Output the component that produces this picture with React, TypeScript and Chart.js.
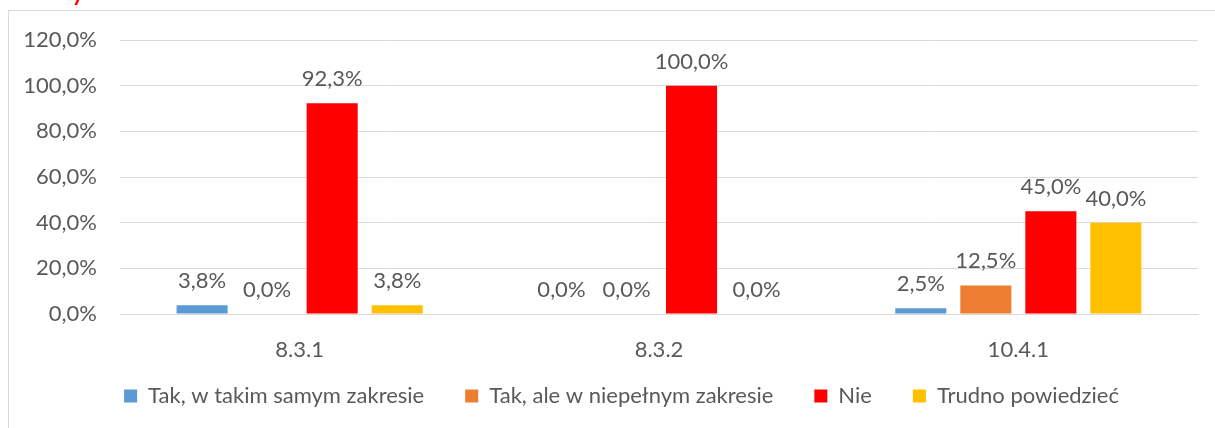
import React, { useEffect, useRef } from "react";
import { Chart, registerables } from "chart.js";

Chart.register(...registerables);

const categories = ["8.3.1", "8.3.2", "10.4.1"];
const seriesNames = [
  "Tak, w takim samym zakresie",
  "Tak, ale w niepełnym zakresie",
  "Nie",
  "Trudno powiedzieć",
];
const takSame = [3.8, 0.0, 2.5];
const takNiepelny = [0.0, 0.0, 12.5];
const nie = [92.3, 100.0, 45.0];
const trudno = [3.8, 0.0, 40.0];
const seriesColors = ["#5B9BD5", "#ED7D31", "#FF0000", "#FFC000"];
const yMax = 120;
const yStep = 20;

const FONT = "Lato, 'Open Sans', sans-serif";
const TEXT = "#595959";
const GRID = "#D9D9D9";
const FS = 22;
const LEGEND_PAD = 41;

const fmt = (v: number) => v.toFixed(1).replace(".", ",") + "%";

const labelPlugin = {
  id: "barValueLabels",
  afterDatasetsDraw(chart: any) {
    const ctx = chart.ctx;
    ctx.save();
    ctx.font = `${FS}px ${FONT}`;
    ctx.fillStyle = TEXT;
    ctx.textAlign = "center";
    ctx.textBaseline = "alphabetic";
    chart.data.datasets.forEach((ds: any, i: number) => {
      const meta = chart.getDatasetMeta(i);
      meta.data.forEach((bar: any, j: number) => {
        const v = ds.data[j] as number;
        ctx.fillText(fmt(v), bar.x, bar.y - 17);
      });
    });
    ctx.restore();
  },
};

// keep legend compact and place it like the reference
const legendPlacePlugin = {
  id: "legendPlace",
  beforeLayout(chart: any) {
    const lg = chart.legend;
    if (lg && !lg.__patched) {
      const orig = lg.fit.bind(lg);
      lg.fit = function () {
        orig();
        this.height = 64;
      };
      lg.__patched = true;
    }
  },
  afterLayout(chart: any) {
    const lg = chart.legend;
    if (!lg) return;
    lg.left = 45;
    lg.top = 396 - FS / 2 - LEGEND_PAD;
  },
};

export default function App() {
  const ref = useRef<HTMLCanvasElement | null>(null);
  useEffect(() => {
    if (!ref.current) return;
    const values = [takSame, takNiepelny, nie, trudno];
    const chart = new Chart(ref.current, {
      type: "bar",
      data: {
        labels: categories,
        datasets: seriesNames.map((name, i) => ({
          label: name,
          data: values[i],
          backgroundColor: seriesColors[i],
          borderWidth: 0,
          categoryPercentage: 0.724,
          barPercentage: 0.785,
        })),
      },
      options: {
        responsive: false,
        animation: false,
        devicePixelRatio: 1,
        layout: { padding: { left: 0, right: 17, top: 40, bottom: 0 } },
        plugins: {
          tooltip: { enabled: false },
          legend: {
            position: "bottom",
            labels: {
              font: { family: FONT, size: FS },
              color: TEXT,
              boxWidth: 13,
              boxHeight: 13,
              padding: LEGEND_PAD,
            },
          },
        },
        scales: {
          x: {
            grid: { display: false, drawTicks: false },
            border: { display: true, color: GRID, width: 1 },
            ticks: { font: { family: FONT, size: FS }, color: TEXT, padding: 23 },
            afterFit: (s: any) => {
              s.height = 50;
            },
          },
          y: {
            min: 0,
            max: yMax,
            grid: { color: GRID, lineWidth: 1, drawTicks: false },
            border: { display: false },
            ticks: {
              stepSize: yStep,
              font: { family: FONT, size: FS },
              color: TEXT,
              padding: 23,
              callback: (v: any) => fmt(Number(v)),
            },
            afterFit: (s: any) => {
              s.width = 120;
            },
          },
        },
      },
      plugins: [labelPlugin, legendPlacePlugin],
    } as any);
    return () => chart.destroy();
  }, []);

  return (
    <div style={{ position: "absolute", left: 0, top: 0, width: 1215, height: 428, overflow: "hidden", background: "#fff" }}>
      <div
        style={{
          position: "absolute",
          left: 72,
          top: -19,
          color: "#FF0000",
          fontFamily: FONT,
          fontWeight: "bold",
          fontSize: 22,
          lineHeight: "24px",
        }}
      >
        y
      </div>
      <div
        style={{
          position: "absolute",
          left: 8,
          top: 10,
          width: 1210,
          height: 440,
          border: `1px solid ${GRID}`,
          boxSizing: "border-box",
        }}
      />
      <canvas ref={ref} width={1215} height={428} style={{ position: "absolute", left: 0, top: 0, width: 1215, height: 428 }} />
    </div>
  );
}
